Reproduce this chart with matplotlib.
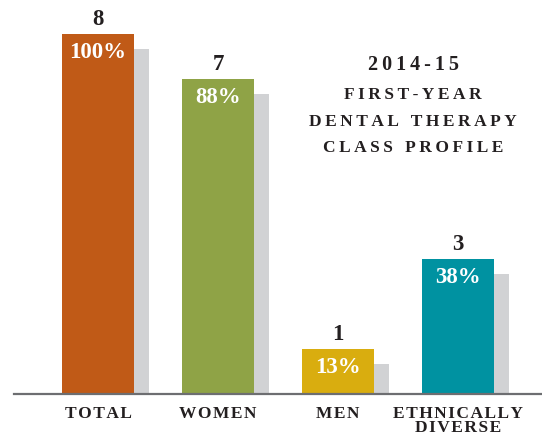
import numpy as np
import matplotlib as mpl
import matplotlib.pyplot as plt

mpl.rcParams['font.family'] = ['Liberation Serif', 'DejaVu Serif']

## Data
categories = ['TOTAL', 'WOMEN', 'MEN', 'ETHNICALLY\nDIVERSE']
counts = [8, 7, 1, 3]
percents = ['100%', '88%', '13%', '38%']
colors = ['#C05A17', '#8FA346', '#D9AD0F', '#0092A1']
title_lines = ['2014-15', 'FIRST-YEAR', 'DENTAL THERAPY', 'CLASS PROFILE']

ink = '#231F20'
shadow = '#D1D2D4'


def spaced(s, gap='\u2009', wordgap='\u2009 '):
    """ Fake letter spacing with thin spaces """
    return wordgap.join(gap.join(w) for w in s.split(' '))


fig = plt.figure(figsize=(5.42, 4.35), dpi=100)
W, H = 542, 435
## axes box in pixels: x 14..542, y 0..395 (baseline)
ax = fig.add_axes([14 / W, (H - 395) / H, (542 - 14) / W, 395 / H])

x = np.arange(len(categories))
width = 0.6
dx = 15 / 120.          # shadow offset, horizontal (category units)
dy = 15 / 45.           # shadow offset, vertical (value units)

## drop shadows first, then bars on top
ax.bar(x + dx, np.array(counts) - dy, width=width, color=shadow, zorder=1)
ax.bar(x, counts, width=width, color=colors, zorder=2)

for xi, c, p in zip(x, counts, percents):
    ax.text(xi, c + 0.35, str(c), ha='center', va='center', fontsize=16.5,
            fontweight='bold', color=ink, zorder=3)
    ax.text(xi, c - 0.38, p, ha='center', va='center', fontsize=16.5,
            fontweight='bold', color='white', zorder=3)

ax.set_xlim(-0.7, 3.7)
ax.set_ylim(0, 395 / 45.)

## baseline and category labels
for s in ['top', 'right', 'left']:
    ax.spines[s].set_visible(False)
ax.spines['bottom'].set_color('#6D6E71')
ax.spines['bottom'].set_linewidth(1.6)
ax.set_yticks([])
ax.set_xticks(x)
ax.set_xticklabels(['\n'.join(spaced(t, '\u200a') for t in c.split('\n')) for c in categories],
                   fontsize=12.5, fontweight='bold', color=ink, linespacing=0.85)
ax.tick_params(axis='x', length=0, pad=8)

## title block
ty = [65, 95, 122, 148]
for line, yy in zip(title_lines, ty):
    fig.text(413 / W, 1 - yy / H, spaced(line, '\u2009', '\u2009  '),
             ha='center', va='center',
             fontsize=12.5 if line != '2014-15' else 14.5,
             fontweight='bold', color=ink)

fig.savefig('out.png', dpi=100)
